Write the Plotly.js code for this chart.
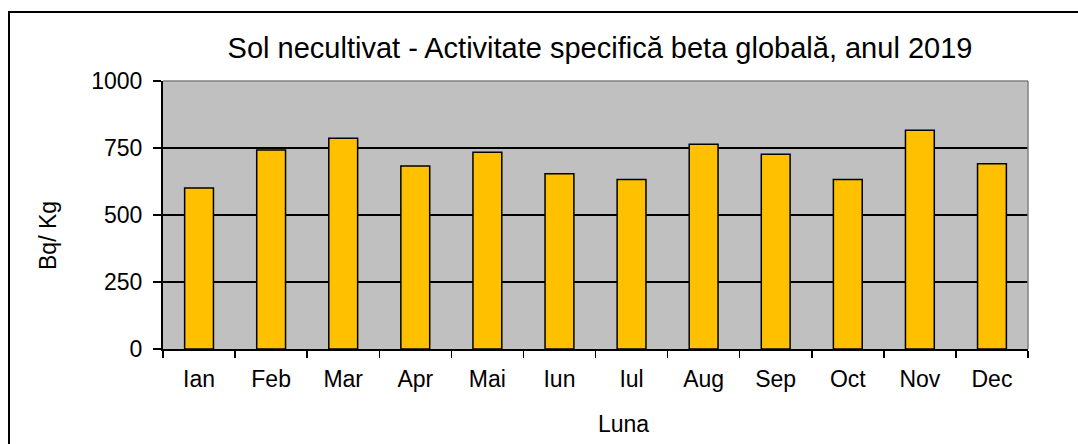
<!DOCTYPE html>
<html>
<head>
<meta charset="utf-8">
<script src="https://cdn.plot.ly/plotly-3.0.1.min.js"></script>
<style>
html,body{margin:0;padding:0;background:#fff;}
#chart{width:1078px;height:444px;}
</style>
</head>
<body>
<div id="chart"></div>
<script>
const months = ["Ian","Feb","Mar","Apr","Mai","Iun","Iul","Aug","Sep","Oct","Nov","Dec"];
const activity = [601, 743, 786, 683, 734, 654, 632, 764, 727, 632, 816, 691];
const yTicks = [0, 250, 500, 750, 1000];
const titleText = "Sol necultivat - Activitate specifică beta globală, anul 2019";
const yTitle = "Bq/ Kg";
const xTitle = "Luna";

const W = 1078, H = 444;
const M = {l:163, r:50, t:81, b:95};
const pw = W - M.l - M.r, ph = H - M.t - M.b;
const px = x => (x - M.l) / pw;
const py = y => (H - M.b - y) / ph;

const font = "Liberation Sans, Arial, sans-serif";

const data = [{
  type: "bar",
  x: months,
  y: activity,
  width: 0.4,
  marker: {color: "#FFC000", line: {color: "#000", width: 1.5}},
  hoverinfo: "x+y"
}];

const layout = {
  width: W, height: H,
  margin: M,
  paper_bgcolor: "#fff",
  plot_bgcolor: "#C0C0C0",
  showlegend: false,
  font: {family: font, color: "#000", size: 23},
  title: {
    text: titleText,
    font: {family: font, size: 29, color: "#000"},
    x: px(600), xref: "paper", xanchor: "center",
    y: 1 - 48 / H, yref: "container", yanchor: "middle"
  },
  xaxis: {
    type: "category",
    showline: true, linecolor: "#000", linewidth: 2,
    ticks: "outside", ticklen: 7, tickcolor: "#000", tickwidth: 1.5,
    tickson: "boundaries",
    ticklabelstandoff: 8,
    showgrid: false, zeroline: false,
    tickfont: {family: font, size: 23, color: "#000"},
    fixedrange: true
  },
  yaxis: {
    range: [0, 1000],
    tickvals: yTicks,
    showline: true, linecolor: "#000", linewidth: 2,
    ticks: "outside", ticklen: 8, tickcolor: "#000", tickwidth: 1.5,
    ticklabelstandoff: 6,
    showgrid: true, gridcolor: "#000", gridwidth: 1.5,
    zeroline: false,
    tickfont: {family: font, size: 23, color: "#000"},
    fixedrange: true
  },
  shapes: [
    {type: "line", xref: "paper", yref: "paper", x0: 0, x1: 1, y0: 1, y1: 1,
     line: {color: "#808080", width: 1.5}},
    {type: "line", xref: "paper", yref: "paper", x0: 1, x1: 1, y0: 0, y1: 1,
     line: {color: "#808080", width: 1.5}},
    {type: "rect", xref: "paper", yref: "paper",
     x0: px(9), x1: px(W + 20), y0: py(12), y1: py(H + 20),
     line: {color: "#000", width: 2}, fillcolor: "rgba(0,0,0,0)", layer: "above"}
  ],
  annotations: [
    {text: yTitle, xref: "paper", yref: "paper", x: px(48), y: py(236),
     xanchor: "center", yanchor: "middle", textangle: -90, showarrow: false,
     font: {family: font, size: 23, color: "#000"}},
    {text: xTitle, xref: "paper", yref: "paper", x: px(623), y: py(424),
     xanchor: "center", yanchor: "middle", showarrow: false,
     font: {family: font, size: 23, color: "#000"}}
  ]
};

Plotly.newPlot("chart", data, layout, {displayModeBar: false, staticPlot: true});
</script>
</body>
</html>
